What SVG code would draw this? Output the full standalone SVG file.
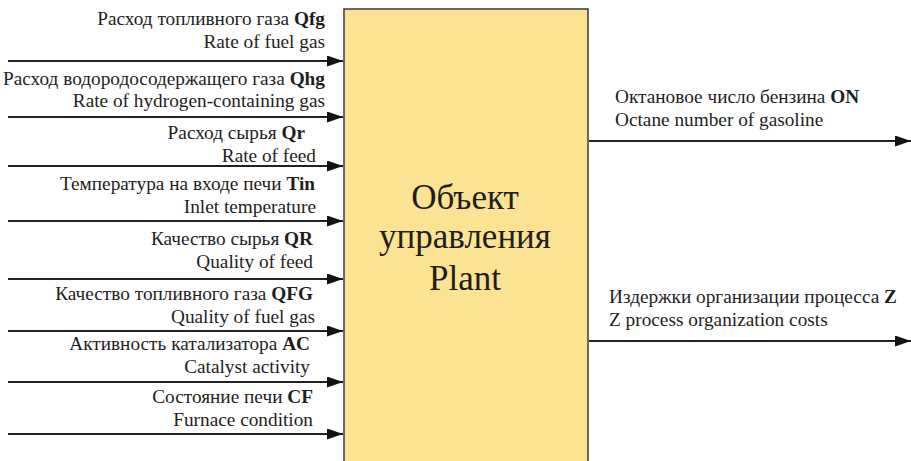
<svg xmlns="http://www.w3.org/2000/svg" width="911" height="461" viewBox="0 0 911 461" font-family="Liberation Serif, serif">
<style>
text{fill:#1e1e1e;font-size:19.3px}
.r{text-anchor:end}
.b{font-weight:bold}
.t{font-size:35px;text-anchor:middle}
.c{stroke:#222;stroke-width:1.8;fill:none}
</style>
<defs>
<marker id="ah" viewBox="0 0 16 11" refX="16" refY="5.5" markerWidth="16" markerHeight="11" markerUnits="userSpaceOnUse" orient="auto">
<path d="M0,0 L16,5.5 L0,11 Z" fill="#111"/>
</marker>
</defs>
<rect width="911" height="461" fill="#fff"/>
<g id="plant">
<rect x="344" y="9" width="244" height="470" fill="#FBE393" stroke="#3a3a3a" stroke-width="1.5"/>
<text class="t" x="465" y="209" font-family="Liberation Serif, serif">Объект</text>
<text class="t" x="465" y="248" font-family="Liberation Serif, serif">управления</text>
<text class="t" x="465" y="290" font-family="Liberation Serif, serif">Plant</text>
</g>
<g id="connectors">
<line class="c" x1="8" y1="61" x2="343" y2="61" marker-end="url(#ah)"/>
<line class="c" x1="8" y1="117" x2="343" y2="117" marker-end="url(#ah)"/>
<line class="c" x1="8" y1="166" x2="343" y2="166" marker-end="url(#ah)"/>
<line class="c" x1="8" y1="221" x2="343" y2="221" marker-end="url(#ah)"/>
<line class="c" x1="8" y1="279" x2="343" y2="279" marker-end="url(#ah)"/>
<line class="c" x1="8" y1="331" x2="343" y2="331" marker-end="url(#ah)"/>
<line class="c" x1="8" y1="382" x2="343" y2="382" marker-end="url(#ah)"/>
<line class="c" x1="8" y1="434" x2="343" y2="434" marker-end="url(#ah)"/>
<line class="c" x1="589" y1="141" x2="911" y2="141" marker-end="url(#ah)"/>
<line class="c" x1="589" y1="341" x2="911" y2="341" marker-end="url(#ah)"/>
</g>
<g font-family="Liberation Serif, serif">
<g id="in-qfg">
<text class="r" x="325" y="25">Расход топливного газа <tspan class="b">Qfg</tspan></text>
<text class="r" x="325" y="48">Rate of fuel gas</text>
</g>
<g id="in-qhg">
<text class="r" x="325" y="85">Расход водородосодержащего газа <tspan class="b">Qhg</tspan></text>
<text class="r" x="325" y="107">Rate of hydrogen-containing gas</text>
</g>
<g id="in-qr">
<text class="r" x="305" y="139">Расход сырья <tspan class="b">Qr</tspan></text>
<text class="r" x="316" y="162">Rate of feed</text>
</g>
<g id="in-tin">
<text class="r" x="315" y="190">Температура на входе печи <tspan class="b">Tin</tspan></text>
<text class="r" x="316" y="213">Inlet temperature</text>
</g>
<g id="in-qrq">
<text class="r" x="313" y="245">Качество сырья <tspan class="b">QR</tspan></text>
<text class="r" x="313" y="268">Quality of feed</text>
</g>
<g id="in-qfgq">
<text class="r" x="313" y="300">Качество топливного газа <tspan class="b">QFG</tspan></text>
<text class="r" x="315" y="323">Quality of fuel gas</text>
</g>
<g id="in-ac">
<text class="r" x="310" y="350">Активность катализатора <tspan class="b">AC</tspan></text>
<text class="r" x="310" y="373">Catalyst activity</text>
</g>
<g id="in-cf">
<text class="r" x="313" y="403">Состояние печи <tspan class="b">CF</tspan></text>
<text class="r" x="313" y="426">Furnace condition</text>
</g>
<g id="out-on">
<text x="615" y="103">Октановое число бензина <tspan class="b">ON</tspan></text>
<text x="615" y="126">Octane number of gasoline</text>
</g>
<g id="out-z">
<text x="609" y="303">Издержки организации процесса <tspan class="b">Z</tspan></text>
<text x="609" y="326">Z process organization costs</text>
</g>
</g>
</svg>
